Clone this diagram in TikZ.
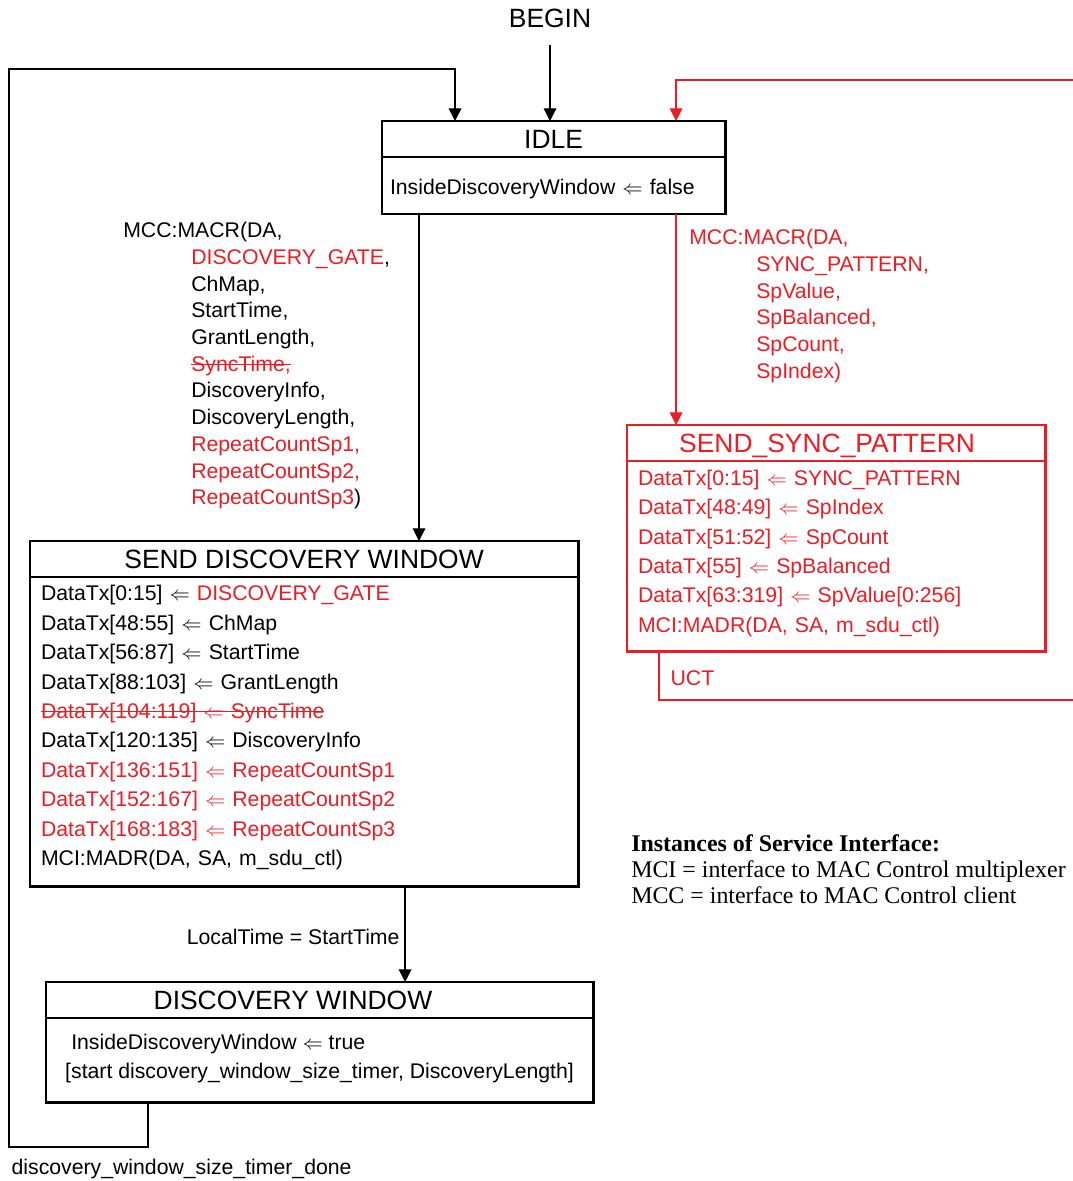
\documentclass[tikz,border=0pt]{standalone}
\usepackage{fontspec}
\setmainfont{Liberation Sans}
\newfontfamily\timesfont{Liberation Serif}
\usetikzlibrary{arrows.meta}
\definecolor{sred}{RGB}{237,28,36}
\newsavebox{\strikebox}
\newcommand{\strikeout}[1]{\leavevmode\sbox{\strikebox}{#1}\rlap{\rule[0.3em]{\wd\strikebox}{0.8pt}}\usebox{\strikebox}}
\tikzstyle{title} = [rectangle, draw=black, line width=2.1pt, outer sep=0pt, minimum height=0.9cm, inner sep=0pt, font=\fontsize{18.8}{22}\selectfont]
\tikzstyle{body} = [rectangle, draw=black, line width=2.1pt, outer sep=0pt, inner xsep=0.275cm, inner ysep=0pt, align=left, font=\fontsize{15.1}{20.9}\selectfont]
\tikzstyle{guard} = [align=left, inner sep=0pt, font=\fontsize{15.1}{19}\selectfont]
\tikzstyle{arrow} = [line width=0.9pt, -{Triangle[length=9pt, width=9pt]}]

\begin{document}
\begin{tikzpicture}[x=0.025cm, y=-0.025cm]
    \useasboundingbox (0,0) rectangle (1072,1181);

    \node(BEGIN)[inner sep=0pt, minimum height=1.35cm, font=\fontsize{18.8}{22}\selectfont] at (550,18) {BEGIN};

    \node(IDLE)[title, minimum width=8.575cm, anchor=north west] at (382,121) {IDLE};
    \node(IDLE1)[body, inner xsep=0.2cm, text width=8.175cm, minimum height=1.425cm, anchor=north west] at (IDLE.south west)
      {\rule{0pt}{0.54cm}InsideDiscoveryWindow $\Leftarrow$ false};

    \node(SDW)[title, minimum width=13.7cm, anchor=north west] at (30,541) {SEND DISCOVERY WINDOW};
    \node(SDW1)[body, text width=13.15cm, minimum height=7.725cm, anchor=north west] at (SDW.south west)
      {DataTx[0:15] $\Leftarrow$ {\color{sred}DISCOVERY\_GATE}\\
       DataTx[48:55] $\Leftarrow$ ChMap\\
       DataTx[56:87] $\Leftarrow$ StartTime\\
       DataTx[88:103] $\Leftarrow$ GrantLength\\
       {\color{sred}\strikeout{DataTx[104:119] $\Leftarrow$ SyncTime}}\\
       DataTx[120:135] $\Leftarrow$ DiscoveryInfo\\
       {\color{sred}DataTx[136:151] $\Leftarrow$ RepeatCountSp1}\\
       {\color{sred}DataTx[152:167] $\Leftarrow$ RepeatCountSp2}\\
       {\color{sred}DataTx[168:183] $\Leftarrow$ RepeatCountSp3}\\
       MCI:MADR(DA, SA, m\_sdu\_ctl)\rule[-0.3cm]{0pt}{0pt}};

    \node(SSP)[title, draw=sred, text=sred, text depth=0pt, minimum width=10.45cm, anchor=north west] at (627,425) {SEND\_SYNC\_PATTERN\hspace*{0.45cm}};
    \node(SSP1)[body, draw=sred, text=sred, text width=9.9cm, minimum height=4.75cm, anchor=north west] at (SSP.south west)
      {DataTx[0:15] $\Leftarrow$ SYNC\_PATTERN\\
       DataTx[48:49] $\Leftarrow$ SpIndex\\
       DataTx[51:52] $\Leftarrow$ SpCount\\
       DataTx[55] $\Leftarrow$ SpBalanced\\
       DataTx[63:319] $\Leftarrow$ SpValue[0:256]\\
       MCI:MADR(DA, SA, m\_sdu\_ctl)\rule[-0.25cm]{0pt}{0pt}};

    \node(DW)[title, minimum width=13.675cm, anchor=north west] at (46,982) {DISCOVERY WINDOW\hspace*{1.33cm}};
    \node(DW1)[body, minimum width=13.675cm, minimum height=2.1cm, anchor=north west] at (DW.south west)
      {\hspace*{0.15cm}InsideDiscoveryWindow $\Leftarrow$ true\\
       {[}start discovery\_window\_size\_timer, DiscoveryLength]\rule[-0.18cm]{0pt}{0pt}};

    \node(INFO)[anchor=north west, align=left, inner sep=0pt, font=\timesfont\fontsize{17}{18.5}\selectfont] at (631,834)
      {\textbf{Instances of Service Interface:}\\
       MCI = interface to MAC Control multiplexer\\
       MCC = interface to MAC Control client};

    \coordinate(loop1) at (9,1147);
    \coordinate(loop2) at (9,69);
    \coordinate(uct1) at (1090,700);
    \coordinate(uct2) at (1090,80);

    \draw[arrow] (BEGIN.south) -- (BEGIN.south |- IDLE.north);

    \draw[arrow] ([xshift=0.925cm]IDLE1.south west) -- ([xshift=0.925cm]IDLE1.south west |- SDW.north);
    \node(MACR)[guard, anchor=north west] at (123,222)
      {MCC:MACR(DA,\\
       \hspace*{1.7cm}{\color{sred}DISCOVERY\_GATE},\\
       \hspace*{1.7cm}ChMap,\\
       \hspace*{1.7cm}StartTime,\\
       \hspace*{1.7cm}GrantLength,\\
       \hspace*{1.7cm}{\color{sred}\strikeout{SyncTime,}}\\
       \hspace*{1.7cm}DiscoveryInfo,\\
       \hspace*{1.7cm}DiscoveryLength,\\
       \hspace*{1.7cm}{\color{sred}RepeatCountSp1,}\\
       \hspace*{1.7cm}{\color{sred}RepeatCountSp2,}\\
       \hspace*{1.7cm}{\color{sred}RepeatCountSp3})};

    \draw[arrow, sred] ([xshift=7.35cm]IDLE1.south west) -- ([xshift=7.35cm]IDLE1.south west |- SSP.north);
    \node(MACR1)[guard, text=sred, anchor=north west] at (689,229)
      {MCC:MACR(DA,\\
       \hspace*{1.675cm}SYNC\_PATTERN,\\
       \hspace*{1.675cm}SpValue,\\
       \hspace*{1.675cm}SpBalanced,\\
       \hspace*{1.675cm}SpCount,\\
       \hspace*{1.675cm}SpIndex)};

    \draw[arrow, sred] ([xshift=0.8cm]SSP1.south west) |- node[guard, text=sred, pos=0.28, anchor=west, xshift=0.275cm]{UCT} (uct1)
      -- (uct2) -| ([xshift=7.35cm]IDLE.north west);

    \draw[arrow] ([xshift=9.375cm]SDW1.south west) -- node[guard, pos=0.53, anchor=east, xshift=-0.125cm]{LocalTime = StartTime}
      ([xshift=9.375cm]SDW1.south west |- DW.north);

    \draw[arrow] ([xshift=2.55cm]DW1.south west) |- (loop1) node[guard, anchor=north west, xshift=0.05cm, yshift=-0.275cm]{discovery\_window\_size\_timer\_done}
      -- (loop2) -| ([xshift=1.825cm]IDLE.north west);

\end{tikzpicture}
\end{document}
